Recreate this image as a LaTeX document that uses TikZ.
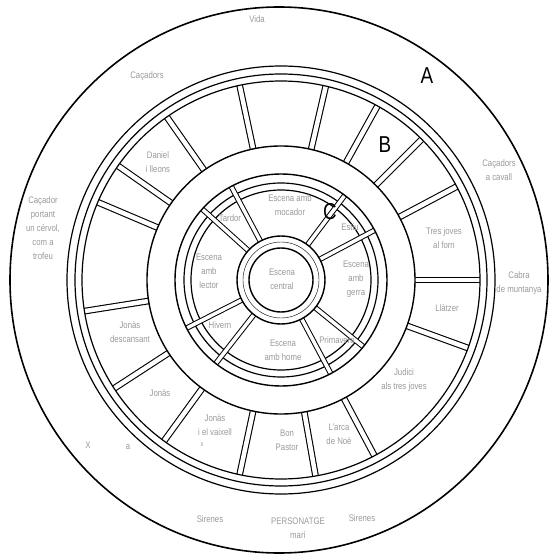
\documentclass[tikz,border=0pt]{standalone}
\usepackage{fontspec}
\setmainfont{Liberation Sans}[FakeStretch=0.82]
\usepackage{tikz}

\begin{document}
\begin{tikzpicture}[
  x=1pt, y=1pt,
  rim/.style={line width=1.2pt},
  hub/.style={line width=1.4pt},
  spokeB/.style={line width=1.1pt, double=white, double distance=4.5pt},
  spokeC/.style={line width=1pt, double=white, double distance=3.5pt},
  label/.style={font=\fontsize{9.5}{14}\selectfont, text=black!40, align=center},
  letter/.style={font=\fontsize{23}{23}\selectfont}
]
\useasboundingbox (-281,-274) rectangle (269,280);

% outer band A
\draw[line width=1.6pt] (-2,0) ellipse (269 and 273);

% band B: spokes, then rims over them
\foreach \a in {102,77,61,45,28,0,-20,-62,-80,-102,-126,-147,-171,157,145,125}
  \draw[spokeB] (\a:134) -- (\a:199);
\foreach \r in {199,206,214}
  \draw[rim] (0,0) circle (\r);
\draw[hub] (0,0) circle (134);

% band C
\draw[rim] (0,0) circle (90);
\draw[rim] (0,0) circle (97);
\foreach \a in {28,53,118,138,207,232,298,321}
  \draw[spokeC] (\a:44) -- (\a:106);
\draw[hub] (0,0) circle (106);

% centre
\draw[hub] (0,0) circle (44);
\draw[thin] (0,0) circle (38);
\draw[hub] (0,0) circle (32);

% letters
\node[letter] (lA) at (146,204) {A};
\node[letter] (lB) at (104,135) {B};
\node[letter] (lC) at (49,68) {C};

% band A texts
\node[label] (vida) at (-24,261) {Vida};
\node[label] (cacadors) at (-134,204) {Caçadors};
\node[label] (cavall) at (218,110) {Caçadors\\a cavall};
\node[label] (trofeu) at (-238,52) {Caçador\\portant\\un cérvol,\\com a\\trofeu};
\node[label] (cabra) at (238,-3) {Cabra\\de muntanya};
\node[label] (xa) at (-193,-165) {X};
\node[label] (xb) at (-153,-167) {a};
\node[label] (sirL) at (-71,-239) {Sirenes};
\node[label] (pers) at (17,-248) {PERSONATGE\\marí};
\node[label] (sirR) at (81,-238) {Sirenes};

% band B texts
\node[label] (daniel) at (-123,118) {Daniel\\i lleons};
\node[label] (forn) at (163,42) {Tres joves\\al forn};
\node[label] (llatzer) at (166,-28) {Llàtzer};
\node[label] (judici) at (123,-100) {Judici\\als tres joves};
\node[label] (arca) at (58,-154) {L'arca\\de Noè};
\node[label] (pastor) at (6,-160) {Bon\\Pastor};
\node[label] (vaixell) at (-66,-145) {Jonàs\\i el vaixell};
\node[label, font=\fontsize{7}{7}\selectfont] (vx) at (-79,-165) {x};
\node[label] (jonas) at (-121,-113) {Jonàs};
\node[label] (descans) at (-151,-52) {Jonàs\\descansant};

% band C texts
\node[label] (mocador) at (9,75) {Escena amb\\mocador};
\node[label] (estiu) at (69,53) {Estiu};
\node[label] (gerra) at (75,1) {Escena\\amb\\gerra};
\node[label] (prima) at (56,-60) {Primavera};
\node[label] (home) at (2,-70) {Escena\\amb home};
\node[label] (hivern) at (-61,-45) {Hivern};
\node[label] (lector) at (-72,9) {Escena\\amb\\lector};
\node[label] (tardor) at (-51,62) {Tardor};
\node[label] (central) at (1,1) {Escena\\central};

\end{tikzpicture}
\end{document}
